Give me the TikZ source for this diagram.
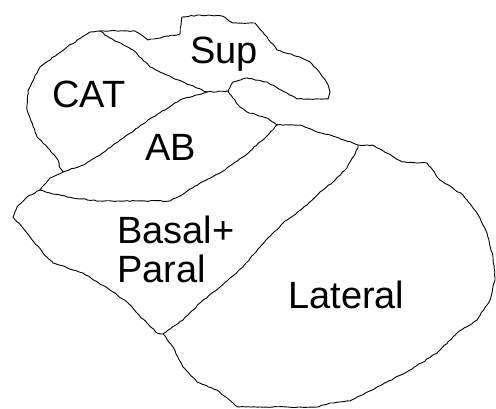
\documentclass[tikz,border=0pt]{standalone}
\usepackage{fontspec}
\setmainfont{Liberation Sans}
\usetikzlibrary{decorations.pathmorphing}
\begin{document}
\pgfmathsetseed{7}
\begin{tikzpicture}[x=1pt,y=-1pt,
  edge/.style={draw=black,line width=0.9pt,line join=round,line cap=round,
    decorate,decoration={random steps,segment length=3pt,amplitude=0.5pt}},
  lbl/.style={anchor=base west,inner sep=0pt,font=\fontsize{38}{39}\selectfont}]
\useasboundingbox (0,0) rectangle (496,408);
% junctions of the region borders
\coordinate (j1) at (100,31);
\coordinate (j2) at (207,92);
\coordinate (j3) at (228,91);
\coordinate (j4) at (277,125);
\coordinate (j5) at (358,145);
\coordinate (j6) at (63,172);
\coordinate (j7) at (40,190);
\coordinate (j8) at (163,334);
% Sup outline
\path[edge] (j1) -- (135,31) -- (148,40) -- (180,34) -- (182,17) -- (200,15)
  -- (222,16) -- (233,23) -- (255,23) -- (267,37) -- (277,50) -- (300,57)
  -- (310,62) -- (320,73) -- (327,83) -- (330,92) -- (328,99) -- (297,99)
  -- (287,93) -- (267,82) -- (247,78) -- (233,82) -- (j3);
% CAT / Sup border
\path[edge] (j1) -- (110,38) -- (133,50) -- (150,67) -- (173,78) -- (190,85) -- (j2);
\path[edge] (j2) -- (j3);
% CAT outer border
\path[edge] (j1) -- (90,32) -- (67,47) -- (40,67) -- (28,90) -- (27,110)
  -- (37,137) -- (50,150) -- (58,160) -- (60,168) -- (j6);
% CAT / AB border
\path[edge] (j2) -- (180,100) -- (153,117) -- (120,140) -- (100,155)
  -- (83,165) -- (j6) -- (50,178) -- (j7);
% outer border of Basal+Paral
\path[edge] (j7) -- (27,197) -- (17,207) -- (13,217) -- (23,228) -- (30,237)
  -- (43,253) -- (53,263) -- (83,273) -- (110,290) -- (127,302) -- (137,313)
  -- (147,323) -- (157,333) -- (j8);
% AB / Basal border
\path[edge] (j7) -- (50,193) -- (73,198) -- (100,201) -- (170,201) -- (180,196)
  -- (200,183) -- (220,173) -- (243,157) -- (260,142) -- (267,136) -- (j4);
% AB / Sup border
\path[edge] (j3) -- (233,98) -- (240,107) -- (247,112) -- (267,118) -- (j4);
% Lateral outer border
\path[edge] (j4) -- (300,125) -- (317,132) -- (333,136) -- (353,143) -- (j5)
  -- (372,145) -- (387,153) -- (402,162) -- (427,163) -- (440,180) -- (463,195)
  -- (477,213) -- (487,233) -- (493,257) -- (495,280) -- (490,300) -- (477,320)
  -- (457,333) -- (437,353) -- (410,370) -- (387,382) -- (350,401) -- (330,403)
  -- (317,407) -- (238,407) -- (217,390) -- (197,382) -- (183,367) -- (173,347)
  -- (j8);
% Basal / Lateral border
\path[edge] (j5) -- (358,148) -- (347,168) -- (333,182) -- (320,192) -- (307,205)
  -- (283,223) -- (260,247) -- (243,267) -- (220,287) -- (200,303) -- (183,320)
  -- (j8);
% region labels
\node[lbl] (sup) at (190,63) {Sup};
\node[lbl] (cat) at (52,107) {CAT};
\node[lbl] (ab) at (145,160) {AB};
\node[lbl] (basal) at (117,243) {Basal+};
\node[lbl] (paral) at (117,282) {Paral};
\node[lbl] (lateral) at (288,308) {Lateral};
\end{tikzpicture}
\end{document}
